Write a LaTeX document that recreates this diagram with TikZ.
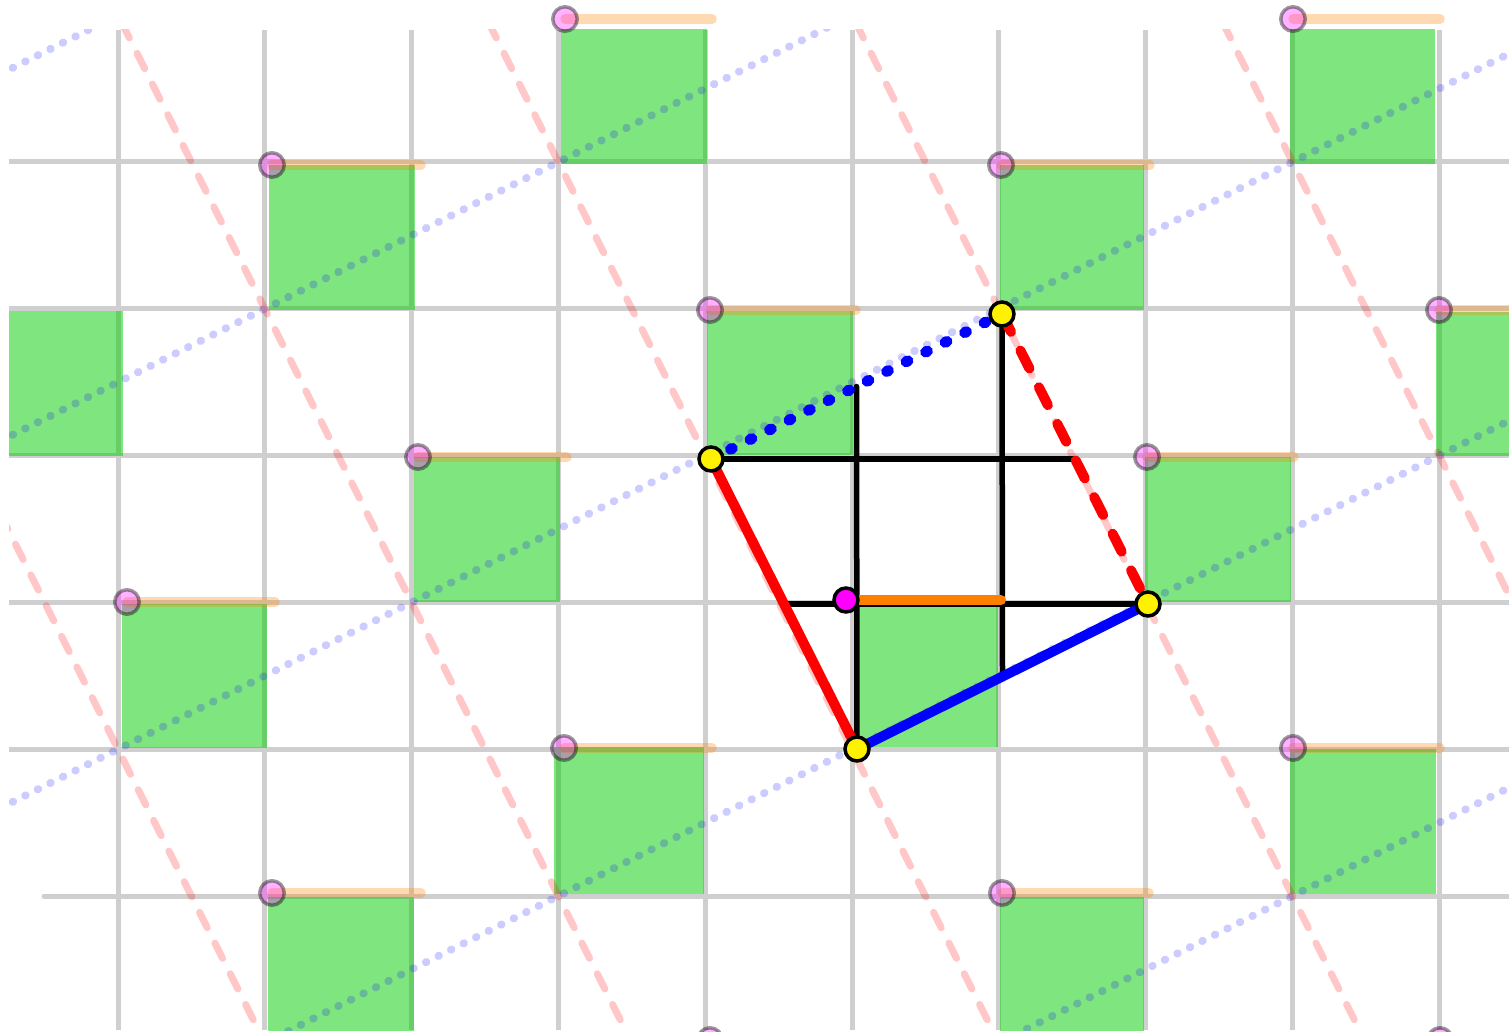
\documentclass[tikz,border=0pt]{standalone}
\usetikzlibrary{calc}
\definecolor{gridgray}{RGB}{207,207,207}
\definecolor{sqgreen}{RGB}{0,204,0}
\definecolor{ptmag}{RGB}{255,0,255}
\definecolor{orng}{RGB}{255,128,0}
\tikzset{
  gridline/.style={draw=gridgray, line width=5pt},
  tile/.style={fill=sqgreen, fill opacity=0.5},
  faintblue/.style={draw=blue, draw opacity=0.2, line width=8pt, line cap=round, dash pattern=on 0.5pt off 13.5pt},
  faintred/.style={draw=red, draw opacity=0.22, line width=7pt, line cap=round, dash pattern=on 17pt off 17.3pt},
  faintorange/.style={draw=orng, draw opacity=0.3, line width=9.5pt, line cap=round},
  latpt/.style={circle, inner sep=0pt, minimum size=24.5pt, fill=ptmag, fill opacity=0.3, draw=black, draw opacity=0.4, line width=3.5pt},
  blk/.style={draw=black, line width=5.5pt, line cap=round},
  redseg/.style={draw=red, line width=10pt, line cap=round},
  blueseg/.style={draw=blue, line width=10pt, line cap=round},
  bluedots/.style={draw=blue, line width=11pt, line cap=round, dash pattern=on 2pt off 19.8pt},
  reddash/.style={draw=red, line width=10pt, line cap=round, dash pattern=on 20pt off 21pt},
  mainorange/.style={draw=orng, line width=10pt, line cap=round},
  yelpt/.style={circle, inner sep=0pt, minimum size=24pt, fill=yellow, draw=black, line width=3.5pt},
  magpt/.style={circle, inner sep=0pt, minimum size=24pt, fill=ptmag, draw=black, line width=3.5pt}
}
\begin{document}
\begin{tikzpicture}[x=1pt,y=-1pt]
\useasboundingbox (0,0) rectangle (1509,1035);
\clip (0,0) rectangle (1509,1031);
% gray grid
\foreach \i in {0,...,9} {
  \draw[gridline] ({118+146.8*\i},30) -- ({118+146.8*\i},1030);
}
\foreach \j in {0,...,4} {
  \draw[gridline] (9,{162+146.8*\j}) -- (1509,{162+146.8*\j});
}
\draw[gridline, line cap=round] (44,896) -- (1509,896);
\begin{scope}
\clip (9,30) rectangle (1509,1030);
% green tiles
\fill[tile] (561,19) rectangle (707,164);
\fill[tile] (1290,19) rectangle (1435,164);
\fill[tile] (269,165) rectangle (415,310);
\fill[tile] (1000,165) rectangle (1144,310);
\fill[tile] (-30,311) rectangle (123,456);
\fill[tile] (707,311) rectangle (853,455);
\fill[tile] (1436,312) rectangle (1582,456);
\fill[tile] (414,457) rectangle (560,602);
\fill[tile] (1145,457) rectangle (1291,602);
\fill[tile] (122,604) rectangle (267,748);
\fill[tile] (858,605) rectangle (998,747);
\fill[tile] (554,747) rectangle (704,894);
\fill[tile] (1290,749) rectangle (1436,894);
\fill[tile] (268,897) rectangle (414,1035);
\fill[tile] (1000,897) rectangle (1144,1035);
% faint lattice lines
\foreach \c in {74.2,441.2,808.2,1175.2,1542.2} {
  \draw[faintblue] (-100,{\c+50}) -- (1600,{\c-800});
}
\foreach \d in {-256.6,110.4,477.4,844.4,1211.4} {
  \draw[faintred] ({\d-50},-100) -- ({\d+550},1100);
}
\end{scope}
% faint orange edges and lattice points
\foreach \n/\x/\y/\e in {1/565/19/712, 2/1293/19/1440, 3/272/165/421, 4/1001/165/1150,
  5/710/310/856, 6/1439/310/1586, 7/418/457/567, 8/1147/457/1294, 9/127/602/275,
  10/564/748/712, 11/1293/748/1440, 12/272/893/421, 13/1002/893/1149,
  14/710/1040/857, 15/1440/1040/1587} {
  \coordinate (s\n) at (\x,\y);
  \coordinate (e\n) at (\e,\y);
  \draw[faintorange] (s\n) -- (e\n);
}
\foreach \n in {1,...,15} {
  \node[latpt] (l\n) at (s\n) {};
}
% main figure
\coordinate (A) at (711,459);
\coordinate (B) at (1002,314);
\coordinate (C) at (1148,604);
\coordinate (D) at (857,749);
\coordinate (M) at (846,600);
\coordinate (O2) at (1001,600);
\coordinate (mAB) at ($(A)!0.5!(B)$);
\coordinate (mBC) at ($(B)!0.5!(C)$);
\coordinate (mDC) at ($(D)!0.5!(C)$);
\coordinate (mAD) at ($(A)!0.5!(D)$);
\draw[blk] (mAB) -- (D);
\draw[blk] (B) -- (mDC);
\draw[blk] (A) -- (mBC);
\draw[blk] (mAD) -- (C);
\draw[mainorange] (M) -- (O2);
\draw[redseg] (A) -- (D);
\draw[blueseg] (D) -- (C);
\draw[bluedots] (A) -- (B);
\draw[reddash] (B) -- (C);
\node[yelpt] (pA) at (A) {};
\node[yelpt] (pB) at (B) {};
\node[yelpt] (pC) at (C) {};
\node[yelpt] (pD) at (D) {};
\node[magpt] (pM) at (M) {};
\end{tikzpicture}
\end{document}
